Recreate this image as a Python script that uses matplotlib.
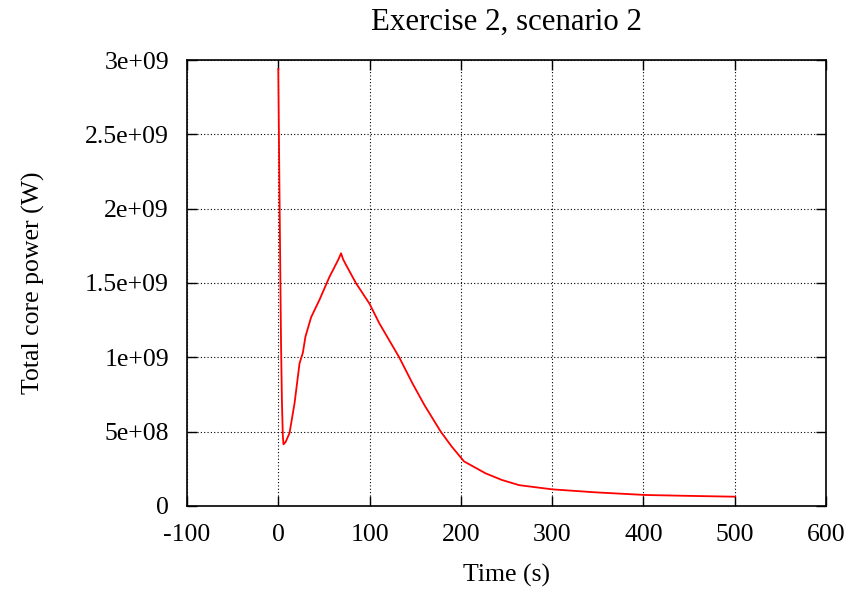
#!/usr/bin/env python3

import numpy as np
from matplotlib import pyplot as plt

# values
time_s = [0, 1, 2, 3, 4, 5, 5.7, 8, 12.3, 17.8, 23.3, 26.9, 29.8, 36, 45, 56, 66, 68.8,
          71, 73.5, 85, 100, 110.6, 132.5, 147, 160, 178, 190, 203.5, 227, 245, 264,
          300, 347, 402, 450, 500]
power_w = [2.94e9, 2.3e9, 1.7e9, 1.1e9, 0.7e9, 0.47e9, 0.415e9, 0.43e9, 0.49e9, 0.69e9,
           0.96e9, 1.03e9, 1.14e9, 1.27e9, 1.385e9, 1.54e9, 1.66e9, 1.70e9,
           1.66e9, 1.63e9, 1.50e9, 1.36e9, 1.23e9, 1.0e9, 0.825e9, 0.68e9, 0.50e9,
           0.40e9, 0.30e9, 0.22e9, 0.175e9, 0.14e9, 0.112e9, 0.092e9, 0.074e9,
           0.068e9, 0.0625e9]

x_ticks = [-100, 0, 100, 200, 300, 400, 500, 600]
y_ticks = [0, 5e8, 1e9, 1.5e9, 2e9, 2.5e9, 3e9]
y_tick_labels = ['0', '5e+08', '1e+09', '1.5e+09', '2e+09', '2.5e+09', '3e+09']

plt.rcParams['font.family'] = ['Liberation Serif', 'DejaVu Serif']
plt.rcParams['font.size'] = 18.5
plt.rcParams['axes.unicode_minus'] = False

fig = plt.figure(figsize=(8.63, 5.9), dpi=100)
ax = fig.add_axes([0.2167, 0.1424, 0.7403, 0.7559])

ax.plot(time_s, power_w, color='#ff0000', linewidth=1.3)

ax.set_xlim(-100, 600)
ax.set_ylim(0, 3e9)
ax.set_xticks(x_ticks)
ax.set_yticks(y_ticks)
ax.set_yticklabels(y_tick_labels)

ax.grid(True, color='black', linestyle=(0, (1, 2)), linewidth=0.8)
ax.tick_params(direction='in', top=True, right=True, length=7, width=1, pad=13)
for spine in ax.spines.values():
    spine.set_linewidth(1.2)

ax.set_title('Exercise 2, scenario 2', pad=22)
ax.set_xlabel('Time (s)')
ax.set_ylabel('Total core power (W)')
ax.xaxis.set_label_coords(0.5, -0.155)
ax.xaxis.label.set_va('center')
ax.yaxis.set_label_coords(-0.241, 0.5)
ax.yaxis.label.set_va('center')

fig.savefig('out.png', dpi=100)
